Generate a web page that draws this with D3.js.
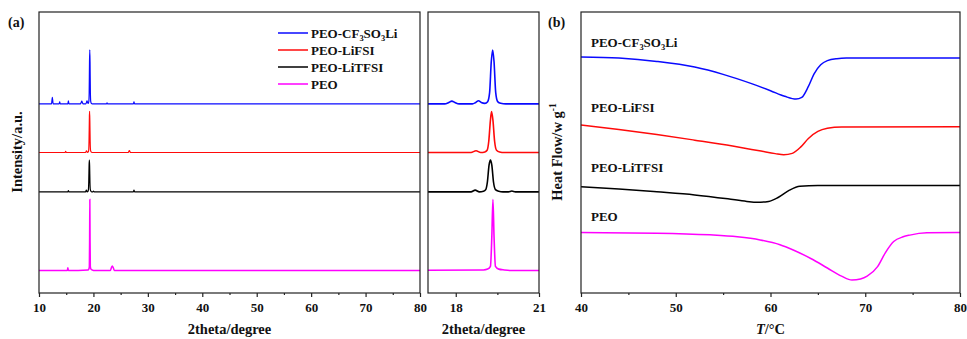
<!DOCTYPE html>
<html lang="en">
<head>
<meta charset="UTF-8">
<title>XRD / DSC</title>
<script src="https://cdn.jsdelivr.net/npm/d3@7"></script>
<style>
  body { margin: 0; background: #fff; }
  text { font-family: "Liberation Serif", "Times New Roman", serif; font-weight: bold; fill: #111; }
</style>
</head>
<body>
<script>
// 样品名称和颜色
var names = ['PEO-CF3SO3Li', 'PEO-LiFSI', 'PEO-LiTFSI', 'PEO'];
var colors = ['#0a0aff', '#ff0a0a', '#000000', '#ff00ff'];

// XRD: 每条曲线的竖直偏移 (a.u.)
var xrdOffsets = [673, 500, 360, 80];
// XRD 数据 [2theta, 相对强度]
var xrdCF3SO3Li = [[10, 0], [12.3, 0], [12.45, 23], [12.6, 0], [13.7, 0], [13.8, 7], [13.9, 0],
  [15.3, 0], [15.4, 11], [15.5, 0], [17.6, 0], [17.75, 5], [17.86, 10], [17.97, 5], [18.12, 0],
  [18.6, 0], [18.72, 5], [18.82, 11], [18.92, 5], [19.05, 2], [19.15, 8], [19.22, 40], [19.28, 150],
  [19.33, 192], [19.38, 150], [19.44, 40], [19.51, 8], [19.62, 2], [19.8, 0], [22.4, 0], [22.5, 4],
  [22.6, 0], [27.35, 0], [27.45, 7], [27.55, 0], [80, 0]];
var xrdLiFSI = [[10, 0], [14.8, 0], [14.9, 4], [15.0, 0], [18.55, 0], [18.73, 6], [18.9, 0],
  [19.05, 2], [19.13, 8], [19.19, 40], [19.25, 115], [19.29, 146], [19.34, 115], [19.40, 40],
  [19.47, 8], [19.58, 2], [19.75, 0], [26.4, 0], [26.6, 7], [26.8, 0], [80, 0]];
var xrdLiTFSI = [[10, 0], [15.3, 0], [15.4, 4], [15.5, 0], [18.55, 0], [18.70, 6], [18.85, 0],
  [19.0, 2], [19.08, 8], [19.14, 35], [19.20, 95], [19.25, 113], [19.30, 95], [19.36, 35],
  [19.43, 8], [19.55, 2], [19.7, 0], [19.9, 0], [20.02, 3], [20.15, 0], [27.35, 0], [27.45, 6],
  [27.55, 0], [80, 0]];
var xrdPEO = [[10, 0], [15.2, 0], [15.3, 10], [15.4, 0], [19.0, 2], [19.15, 5], [19.25, 15],
  [19.30, 120], [19.34, 253], [19.38, 120], [19.43, 15], [19.55, 5], [19.75, 2], [20.0, 0],
  [23.1, 0], [23.3, 10], [23.47, 16], [23.65, 10], [23.85, 0], [80, 0]];

// DSC 数据 [T(°C), heat flow a.u.]
var dscCF3SO3Li = [[40, 8.40], [44, 8.36], [48, 8.24], [52, 8.04], [55, 7.78], [58, 7.45],
  [60, 7.20], [61.5, 7.00], [62.7, 6.90], [63.3, 6.96], [64, 7.35], [64.6, 7.80], [65.3, 8.12],
  [66, 8.27], [67, 8.34], [68, 8.36], [80, 8.36]];
var dscLiFSI = [[40, 5.98], [44, 5.82], [48, 5.64], [52, 5.44], [56, 5.23], [59, 5.05],
  [60.5, 4.96], [61.4, 4.92], [62.3, 4.97], [63.2, 5.20], [64, 5.50], [65, 5.75], [66, 5.86],
  [67.5, 5.91], [80, 5.92]];
var dscLiTFSI = [[40, 3.78], [44, 3.70], [48, 3.60], [52, 3.49], [55.5, 3.35], [57.5, 3.26],
  [58.6, 3.23], [59.8, 3.26], [60.8, 3.40], [62, 3.66], [63.1, 3.80], [65, 3.83], [80, 3.83]];
var dscPEO = [[40, 2.15], [48, 2.13], [53.6, 2.07], [56.5, 2.00], [58.9, 1.89], [61, 1.72],
  [62.4, 1.53], [64.3, 1.22], [66, 0.89], [67.5, 0.60], [68.6, 0.46], [69.5, 0.50], [70.2, 0.60],
  [71.3, 0.94], [72.1, 1.42], [73, 1.83], [74, 2.00], [74.7, 2.06], [76.5, 2.14], [80, 2.15]];

// 刻度
var ticksA = [10, 20, 30, 40, 50, 60, 70, 80];
var minorA = [15, 25, 35, 45, 55, 65, 75];
var ticksM = [18, 21];
var minorM = [19.5];
var ticksB = [40, 50, 60, 70, 80];
var minorB = [45, 55, 65, 75];

var xrdData = [xrdCF3SO3Li, xrdLiFSI, xrdLiTFSI, xrdPEO];
var dscData = [dscCF3SO3Li, dscLiFSI, dscLiTFSI, dscPEO];

var width = 967, height = 339;
var plotTop = 12, plotBottom = 293;
var svg = d3.select('body').append('svg').attr('width', width).attr('height', height);

var xA = d3.scaleLinear().domain([10, 80]).range([39, 420]);
var xM = d3.scaleLinear().domain([17, 21]).range([428, 539]);
var xB = d3.scaleLinear().domain([40, 80]).range([581, 960]);
var yX = d3.scaleLinear().domain([0, 1000]).range([plotBottom, plotTop]);
var yD = d3.scaleLinear().domain([0, 10]).range([plotBottom, plotTop]);

// 名称中的数字写成下标
function label(sel, name, size) {
  var low = false;
  name.split(/(\d)/).forEach(function (p) {
    if (p === '') return;
    if (/\d/.test(p)) {
      sel.append('tspan').attr('font-size', size * 0.65).attr('dy', low ? 0 : 3).text(p);
      low = true;
    } else {
      sel.append('tspan').attr('dy', low ? -3 : 0).text(p);
      low = false;
    }
  });
}

function frame(x) {
  var r = x.range();
  svg.append('rect').attr('x', r[0]).attr('y', plotTop).attr('width', r[1] - r[0])
    .attr('height', plotBottom - plotTop).attr('fill', 'none').attr('stroke', '#222').attr('stroke-width', 1.2);
}

function axis(x, major, minor) {
  var g = svg.append('g').attr('transform', 'translate(0,' + plotBottom + ')')
    .call(d3.axisBottom(x).tickValues(major).tickSize(4).tickPadding(6).tickFormat(d3.format('d')));
  g.select('.domain').remove();
  g.selectAll('line').attr('stroke', '#222').attr('stroke-width', 1.2);
  g.selectAll('text').attr('font-size', 13).attr('font-family', null).attr('fill', '#111');
  var m = svg.append('g').attr('transform', 'translate(0,' + plotBottom + ')')
    .call(d3.axisBottom(x).tickValues(minor).tickSize(2).tickFormat(''));
  m.select('.domain').remove();
  m.selectAll('line').attr('stroke', '#222').attr('stroke-width', 1.2);
}

// (a) XRD 全范围
var lineA = d3.line().x(d => xA(d[0])).curve(d3.curveMonotoneX);
xrdData.forEach(function (s, i) {
  svg.append('path').datum(s).attr('fill', 'none').attr('stroke', colors[i])
    .attr('stroke-width', i === 3 ? 1.5 : 1.2)
    .attr('d', lineA.y(d => yX(d[1] + xrdOffsets[i])));
});
frame(xA);
axis(xA, ticksA, minorA);

// XRD 局部放大 17-21
svg.append('clipPath').attr('id', 'clipM').append('rect')
  .attr('x', xM(17)).attr('y', plotTop).attr('width', xM(21) - xM(17)).attr('height', plotBottom - plotTop);
var lineM = d3.line().x(d => xM(d[0])).curve(d3.curveMonotoneX);
var gM = svg.append('g').attr('clip-path', 'url(#clipM)');
xrdData.forEach(function (s, i) {
  gM.append('path').datum(s).attr('fill', 'none').attr('stroke', colors[i])
    .attr('stroke-width', 1.6)
    .attr('d', lineM.y(d => yX(d[1] + xrdOffsets[i])));
});
frame(xM);
axis(xM, ticksM, minorM);

// (b) DSC
var lineB = d3.line().x(d => xB(d[0])).y(d => yD(d[1])).curve(d3.curveMonotoneX);
dscData.forEach(function (s, i) {
  svg.append('path').datum(s).attr('fill', 'none').attr('stroke', colors[i])
    .attr('stroke-width', 1.5).attr('d', lineB);
});
frame(xB);
axis(xB, ticksB, minorB);

// 图例
var leg = svg.append('g');
names.forEach(function (n, i) {
  var y = 33 + i * 17;
  leg.append('line').attr('x1', 278).attr('x2', 308).attr('y1', y).attr('y2', y)
    .attr('stroke', colors[i]).attr('stroke-width', 1.5);
  label(leg.append('text').attr('x', 311).attr('y', y + 4.5).attr('font-size', 13), n, 13);
});

// DSC 曲线标签
var dscLabelY = [47, 112, 172, 221];
names.forEach(function (n, i) {
  label(svg.append('text').attr('x', 591).attr('y', dscLabelY[i]).attr('font-size', 13), n, 13);
});

// 坐标轴标题
svg.append('text').attr('x', 229.5).attr('y', 334).attr('text-anchor', 'middle')
  .attr('font-size', 14.5).text('2theta/degree');
svg.append('text').attr('x', 483.5).attr('y', 334).attr('text-anchor', 'middle')
  .attr('font-size', 14.5).text('2theta/degree');
var tc = svg.append('text').attr('x', 770.5).attr('y', 334).attr('text-anchor', 'middle')
  .attr('font-size', 14.5);
tc.append('tspan').attr('font-style', 'italic').text('T');
tc.append('tspan').text('/°C');

svg.append('text').attr('transform', 'translate(22,152) rotate(-90)').attr('text-anchor', 'middle')
  .attr('font-size', 14.5).text('Intensity/a.u.');
var hf = svg.append('text').attr('transform', 'translate(562,152) rotate(-90)')
  .attr('text-anchor', 'middle').attr('font-size', 14.5);
hf.append('tspan').text('Heat Flow/w g');
hf.append('tspan').attr('font-size', 9.5).attr('dy', -6).text('-1');

// 面板标记
svg.append('text').attr('x', 8).attr('y', 27).attr('font-size', 14).text('(a)');
svg.append('text').attr('x', 548).attr('y', 27).attr('font-size', 14).text('(b)');
</script>
</body>
</html>
